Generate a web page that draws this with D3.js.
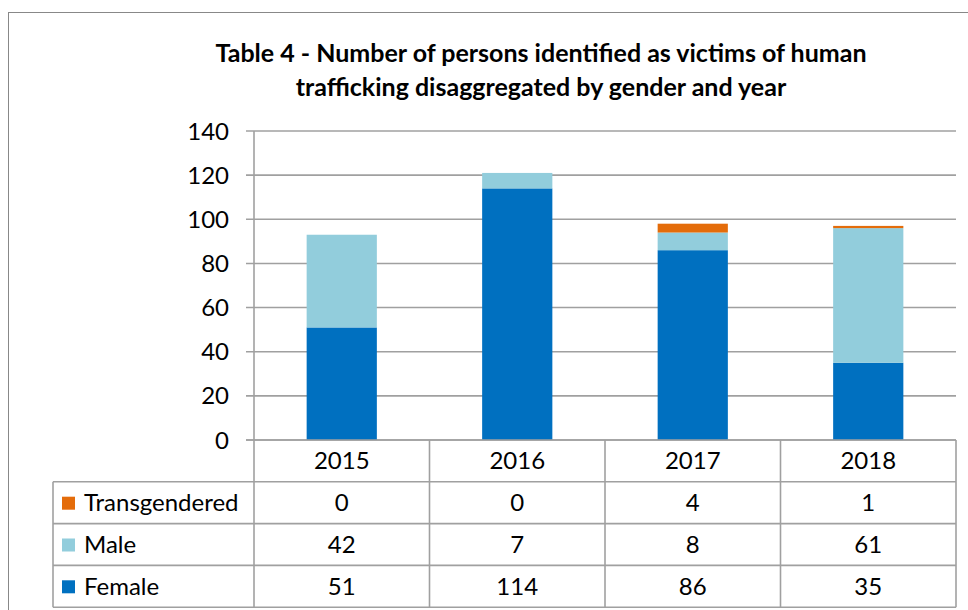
<!DOCTYPE html>
<html><head><meta charset="utf-8">
<script src="https://cdn.jsdelivr.net/npm/d3@7"></script>
<style>body{margin:0;background:#fff}svg{display:block}text{font-family:Lato,"Liberation Sans",sans-serif}</style>
</head><body><svg id="c" width="968" height="610"></svg>
<script>
const years = ["2015","2016","2017","2018"];
const female = [51,114,86,35];
const male = [42,7,8,61];
const trans = [0,0,4,1];
const yTicks = [0,20,40,60,80,100,120,140];
const seriesNames = ["Transgendered","Male","Female"];
const colors = {Female:"#0070C0", Male:"#92CDDC", Transgendered:"#E46C0A"};
const titleLines = ["Table 4 - Number of persons identified as victims of human","trafficking disaggregated by gender and year"];

const svg = d3.select("#c");
const L=254, R=956, T=131, B=440, tblL=53, rowH=41.8;
const gridC="#A0A0A0";
const fs = 24, off = 8.5;

svg.append("rect").attr("x",8.5).attr("y",12.5).attr("width",1000).attr("height",1000).attr("fill","none").attr("stroke","#888").attr("stroke-width",1);

svg.selectAll("text.title").data(titleLines).join("text").attr("class","title")
  .attr("x",541).attr("y",(d,i)=>62+i*34).attr("text-anchor","middle")
  .attr("font-weight","bold").attr("font-size",25).attr("fill","#000").text(d=>d);

const x = d3.scaleBand().domain(years).range([L,R]).paddingInner(0).paddingOuter(0);
const y = d3.scaleLinear().domain([0,140]).range([B,T]);

svg.append("g").selectAll("line").data(yTicks).join("line")
  .attr("x1",L-8).attr("x2",R).attr("y1",d=>y(d)).attr("y2",d=>y(d))
  .attr("stroke",gridC).attr("stroke-width",1.6);

svg.append("g").selectAll("text").data(yTicks).join("text")
  .attr("x",229).attr("y",d=>y(d)+off).attr("text-anchor","end")
  .attr("font-size",fs).attr("fill","#000").text(d=>d);

const rows = years.map((yr,i)=>({year:yr, Female:female[i], Male:male[i], Transgendered:trans[i]}));
const stack = d3.stack().keys(["Female","Male","Transgendered"])(rows);
const bw = x.bandwidth()*0.4;
svg.append("g").selectAll("g").data(stack).join("g").attr("fill",s=>colors[s.key])
  .selectAll("rect").data(s=>s).join("rect")
  .attr("x",d=>x(d.data.year)+x.bandwidth()/2-bw/2).attr("width",bw)
  .attr("y",d=>y(d[1])).attr("height",d=>Math.max(0,y(d[0])-y(d[1])));

const g = svg.append("g").attr("stroke",gridC).attr("stroke-width",1.6);
g.append("line").attr("x1",L).attr("x2",L).attr("y1",T).attr("y2",B+rowH*4);
g.append("line").attr("x1",L-8).attr("x2",R).attr("y1",B).attr("y2",B);
[1,2,3,4].forEach(k=>g.append("line").attr("x1",tblL).attr("x2",R).attr("y1",B+rowH*k).attr("y2",B+rowH*k));
g.append("line").attr("x1",tblL).attr("x2",tblL).attr("y1",B+rowH).attr("y2",B+rowH*4);
years.forEach((yr,i)=>g.append("line").attr("x1",x(yr)+x.bandwidth()).attr("x2",x(yr)+x.bandwidth()).attr("y1",B).attr("y2",B+rowH*4));

svg.append("g").selectAll("text").data(years).join("text")
  .attr("x",d=>x(d)+x.bandwidth()/2).attr("y",B+rowH/2+off).attr("text-anchor","middle")
  .attr("font-size",fs).text(d=>d);

const tableData = {Transgendered:trans, Male:male, Female:female};
seriesNames.forEach((s,r)=>{
  const cy = B+rowH*(r+1)+rowH/2;
  svg.append("rect").attr("x",62).attr("y",cy-6).attr("width",13).attr("height",13).attr("fill",colors[s]);
  svg.append("text").attr("x",84).attr("y",cy+off).attr("font-size",fs).text(s);
  svg.append("g").selectAll("text").data(tableData[s]).join("text")
    .attr("x",(d,i)=>x(years[i])+x.bandwidth()/2).attr("y",cy+off).attr("text-anchor","middle")
    .attr("font-size",fs).text(d=>d);
});
</script></body></html>
